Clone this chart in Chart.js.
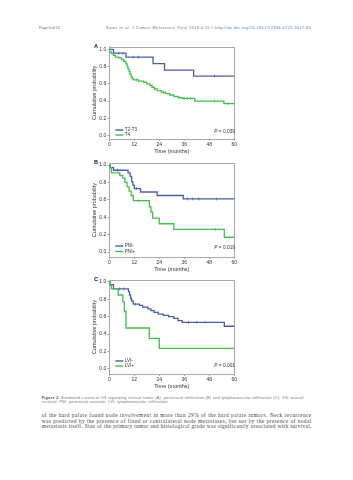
<!DOCTYPE html>
<html><head><meta charset="utf-8">
<script src="https://cdn.jsdelivr.net/npm/chart.js@4/dist/chart.umd.min.js"></script>
<style>
html,body{margin:0;padding:0;background:#fff;}
body{width:353px;height:480px;position:relative;overflow:hidden;font-family:"Liberation Sans",Arial,sans-serif;}
.abs{position:absolute;white-space:nowrap;}
.hdr{font-size:3.7px;line-height:4px;color:#666;}
.hdr a{color:#3a6fb5;text-decoration:none;}
.lbl{font-size:5.5px;line-height:6px;font-weight:bold;color:#111;}
.cap{font-size:3.6px;line-height:4px;color:#666;}
.body{font-family:"Liberation Serif","Times New Roman",serif;font-size:5.4px;line-height:5.6px;color:#444;}
.fit{text-align:justify;text-align-last:justify;}
canvas{position:absolute;}
</style></head><body>

<div class="abs hdr" style="left:39px;top:26.3px;">Page 6 of 13</div>
<div class="abs hdr fit" data-w="205" style="left:106px;top:26.3px;"><span>Salas <i>et al. J Cancer Metastasis Treat</i> 2018;4:15 I <a>http://dx.doi.org/10.20517/2394-4722.2017.65</a></span></div>

<div class="abs lbl" style="left:94px;top:43px;">A</div>
<div class="abs lbl" style="left:94px;top:159px;">B</div>
<div class="abs lbl" style="left:94px;top:276px;">C</div>

<canvas id="cA" width="152" height="116" style="left:88px;top:40px;"></canvas>
<canvas id="cB" width="152" height="117" style="left:88px;top:157px;"></canvas>
<canvas id="cC" width="152" height="118" style="left:88px;top:273px;"></canvas>

<div class="abs cap fit" data-w="262" style="left:41.7px;top:395.7px;"><span><b style="color:#444">Figure 2.</b> Estimated curves of OS regarding clinical tumor (A), perineural infiltration (B) and lymphovascular infiltration (C). OS: overall</span></div>
<div class="abs cap" id="cap2" style="left:41.7px;top:399.7px;">survival; PNI: perineural invasion; LVI: lymphovascular infiltration.</div>

<div class="abs body fit" data-w="270" style="left:41.7px;top:413.2px;"><span>of the hard palate found node involvement in more than 29% of the hard palate tumors. Neck recurrence</span></div>
<div class="abs body fit" data-w="270" style="left:41.7px;top:418.6px;"><span>was predicted by the presence of fixed or contralateral node metastases, but not by the presence of nodal</span></div>
<div class="abs body fit" data-w="270" style="left:41.7px;top:424.2px;"><span>metastasis itself. Size of the primary tumor and histological grade was significantly associated with survival,</span></div>

<script>
// ---------- DATA ----------
const xTicks = [0, 12, 24, 36, 48, 60];
const yTicks = [0.0, 0.2, 0.4, 0.6, 0.8, 1.0];

// Panel A: clinical tumor
const t2t3Time = [0, 2, 8, 21, 26.5, 40.5, 60];
const t2t3Surv = [1.0, 0.955, 0.909, 0.833, 0.758, 0.69, 0.69];
const t2t3Censor = [4.5, 6.5, 11.5, 14, 50.5];
const t4Time = [0, 0.3, 1, 2, 3, 4.5, 6, 7, 8, 8.5, 9, 9.5, 10, 10.5, 11, 11.5, 14, 16.5, 18, 19.5, 20.5, 21.5, 23, 25, 27, 29, 31, 33, 35, 41, 55, 60];
const t4Surv = [1.0, 0.97, 0.95, 0.93, 0.91, 0.90, 0.88, 0.86, 0.83, 0.80, 0.77, 0.74, 0.71, 0.68, 0.66, 0.645, 0.63, 0.62, 0.60, 0.58, 0.56, 0.54, 0.52, 0.50, 0.485, 0.47, 0.455, 0.44, 0.43, 0.40, 0.37, 0.37];
const t4Censor = [13, 22, 26, 33.5, 36, 37.5, 39, 50.5, 57];

// Panel B: perineural infiltration
const pniNegTime = [0, 0.5, 2, 9, 10, 10.7, 11.3, 12, 15, 23, 35.5, 60];
const pniNegSurv = [1.0, 0.97, 0.94, 0.91, 0.87, 0.81, 0.77, 0.73, 0.69, 0.65, 0.61, 0.61];
const pniNegCensor = [4, 13, 37.5, 40, 43, 51.5];
const pniPosTime = [0, 0.3, 1, 5, 6.5, 7.5, 8.5, 9.5, 10.5, 11.5, 19.2, 20, 20.8, 24, 31, 55.2, 60];
const pniPosSurv = [1.0, 0.97, 0.91, 0.88, 0.85, 0.80, 0.75, 0.70, 0.65, 0.59, 0.52, 0.46, 0.39, 0.325, 0.26, 0.17, 0.17];
const pniPosCensor = [14, 51];

// Panel C: lymphovascular infiltration
const lviNegTime = [0, 0.5, 2, 9.2, 9.7, 10.2, 10.7, 11.5, 14.5, 16, 18.5, 20, 21.5, 23.5, 26, 28.5, 31, 33, 35, 55.2, 60];
const lviNegSurv = [1.0, 0.97, 0.92, 0.89, 0.85, 0.81, 0.78, 0.745, 0.73, 0.71, 0.69, 0.67, 0.65, 0.63, 0.615, 0.60, 0.58, 0.555, 0.535, 0.49, 0.49];
const lviNegCensor = [5, 7, 12.5, 38, 42, 46];
const lviPosTime = [0, 0.5, 1, 4.3, 6.5, 7.2, 8, 19.2, 24, 60];
const lviPosSurv = [1.0, 0.96, 0.92, 0.85, 0.77, 0.66, 0.47, 0.35, 0.235, 0.235];
const lviPosCensor = [];

const pValues = ['P = 0.039', 'P = 0.019', 'P = 0.001'];
const seriesLabels = [['T2-T3', 'T4'], ['PNI-', 'PNI+'], ['LVI-', 'LVI+']];

// ---------- TEXT FITTING (letter-spacing, font size kept) ----------
document.querySelectorAll('.fit').forEach(el => {
  const target = parseFloat(el.dataset.w);
  const span = el.querySelector('span');
  const n = span.textContent.length;
  const w = span.getBoundingClientRect().width;
  const ls = (target - w) / n * 0.97;
  el.style.letterSpacing = ls + 'px';
  el.style.width = target + 'px';
});
(function(){ const c1 = document.querySelector('.cap.fit'); document.getElementById('cap2').style.letterSpacing = c1.style.letterSpacing; })();

// ---------- STYLE ----------
const BLUE = '#4a5ea6';
const GREEN = '#46bd4a';
const FRAME = '#a9a9a9';

function xy(t, s) { return t.map((v, i) => ({x: v, y: s[i]})); }
function survAt(t, s, time) { let v = s[0]; for (let i = 0; i < t.length; i++) { if (t[i] <= time) v = s[i]; } return v; }
function censorXY(t, s, c) { return c.map(ct => ({x: ct, y: survAt(t, s, ct)})); }

const framePlugin = {
  id: 'frame',
  beforeDatasetsDraw(chart) {
    const {ctx, chartArea: a} = chart;
    ctx.save(); ctx.strokeStyle = FRAME; ctx.lineWidth = 1;
    ctx.strokeRect(Math.round(a.left) + 0.5, Math.round(a.top) + 0.5, Math.round(a.right - a.left), Math.round(a.bottom - a.top));
    ctx.restore();
  },
  afterDraw(chart, args, opts) {
    const {ctx, chartArea: a} = chart;
    ctx.save();
    ctx.font = '4.6px "Liberation Sans", Arial, sans-serif';
    ctx.textBaseline = 'middle';
    const mains = chart.data.datasets.filter(d => d.isMain);
    mains.forEach((d, i) => {
      const y = a.bottom + opts.rows[i];
      ctx.strokeStyle = d.borderColor; ctx.lineWidth = 1.4;
      ctx.beginPath(); ctx.moveTo(a.left + 6, y); ctx.lineTo(a.left + 14, y); ctx.stroke();
      ctx.fillStyle = '#333'; ctx.fillText(d.label, a.left + 15.5, y);
    });
    ctx.fillStyle = '#333';
    const py = a.bottom + opts.pRow;
    ctx.font = 'italic 4.8px "Liberation Sans", Arial, sans-serif';
    ctx.fillText('P', a.left + 105, py);
    const pw = ctx.measureText('P').width;
    ctx.font = '4.8px "Liberation Sans", Arial, sans-serif';
    ctx.fillText(opts.pText.slice(1), a.left + 105 + pw, py);
    ctx.restore();
  }
};

function makeChart(id, series, labels, pText, yMin, yMax, padTop, rows, pRow) {
  const datasets = [];
  series.forEach((s, i) => {
    const col = i === 0 ? BLUE : GREEN;
    datasets.push({label: labels[i], isMain: true, data: xy(s.t, s.s), stepped: true, borderColor: col,
      borderWidth: 1.3, pointRadius: 0, fill: false, order: 2 - i});
    datasets.push({label: labels[i] + ' censored', isMain: false, data: censorXY(s.t, s.s, s.c), showLine: false,
      pointStyle: 'line', rotation: 90, pointRadius: 1.5, pointBorderColor: col, borderColor: col, pointBorderWidth: 0.7, order: 2 - i});
  });
  const tickFont = {family: '"Liberation Sans", Arial, sans-serif', size: 5};
  const titleFont = {family: '"Liberation Sans", Arial, sans-serif', size: 5.5};
  new Chart(document.getElementById(id), {
    type: 'line',
    data: {datasets},
    options: {
      responsive: false, animation: false, devicePixelRatio: 1,
      layout: {padding: {top: padTop, right: 5.7, bottom: 0, left: 0}},
      plugins: {legend: {display: false}, tooltip: {enabled: false},
        frame: {rows, pRow, pText}},
      scales: {
        x: {type: 'linear', min: 0, max: 60,
          afterBuildTicks: sc => { sc.ticks = xTicks.map(v => ({value: v})); },
          afterFit: sc => { sc.height = 17; },
          ticks: {font: tickFont, color: '#333', padding: 1, maxRotation: 0, callback: v => String(v)},
          grid: {drawOnChartArea: false, drawTicks: true, tickLength: 2, color: FRAME},
          border: {color: FRAME},
          title: {display: true, text: 'Time (months)', font: titleFont, color: '#333', padding: {top: 0, bottom: 1.5}}},
        y: {type: 'linear', min: yMin, max: yMax,
          afterBuildTicks: sc => { sc.ticks = yTicks.map(v => ({value: v})); },
          afterFit: sc => { sc.width = 21.3; },
          ticks: {font: tickFont, color: '#333', padding: 1, callback: v => Number(v).toFixed(1)},
          grid: {drawOnChartArea: false, drawTicks: true, tickLength: 2, color: FRAME},
          border: {color: FRAME},
          title: {display: true, text: 'Cumulative probability', font: titleFont, color: '#333', padding: {top: 3, bottom: 0}}}
      }
    },
    plugins: [framePlugin]
  });
}

makeChart('cA', [{t: t2t3Time, s: t2t3Surv, c: t2t3Censor}, {t: t4Time, s: t4Surv, c: t4Censor}],
  seriesLabels[0], pValues[0], -0.04, 1.03, 6.7, [-9, -4], -7.5);
makeChart('cB', [{t: pniNegTime, s: pniNegSurv, c: pniNegCensor}, {t: pniPosTime, s: pniPosSurv, c: pniPosCensor}],
  seriesLabels[1], pValues[1], -0.057, 1.02, 6.3, [-11, -5.5], -9);
makeChart('cC', [{t: lviNegTime, s: lviNegSurv, c: lviNegCensor}, {t: lviPosTime, s: lviPosSurv, c: lviPosCensor}],
  seriesLabels[2], pValues[2], -0.06, 1.023, 7, [-13, -8], -8);
</script>
</body></html>
